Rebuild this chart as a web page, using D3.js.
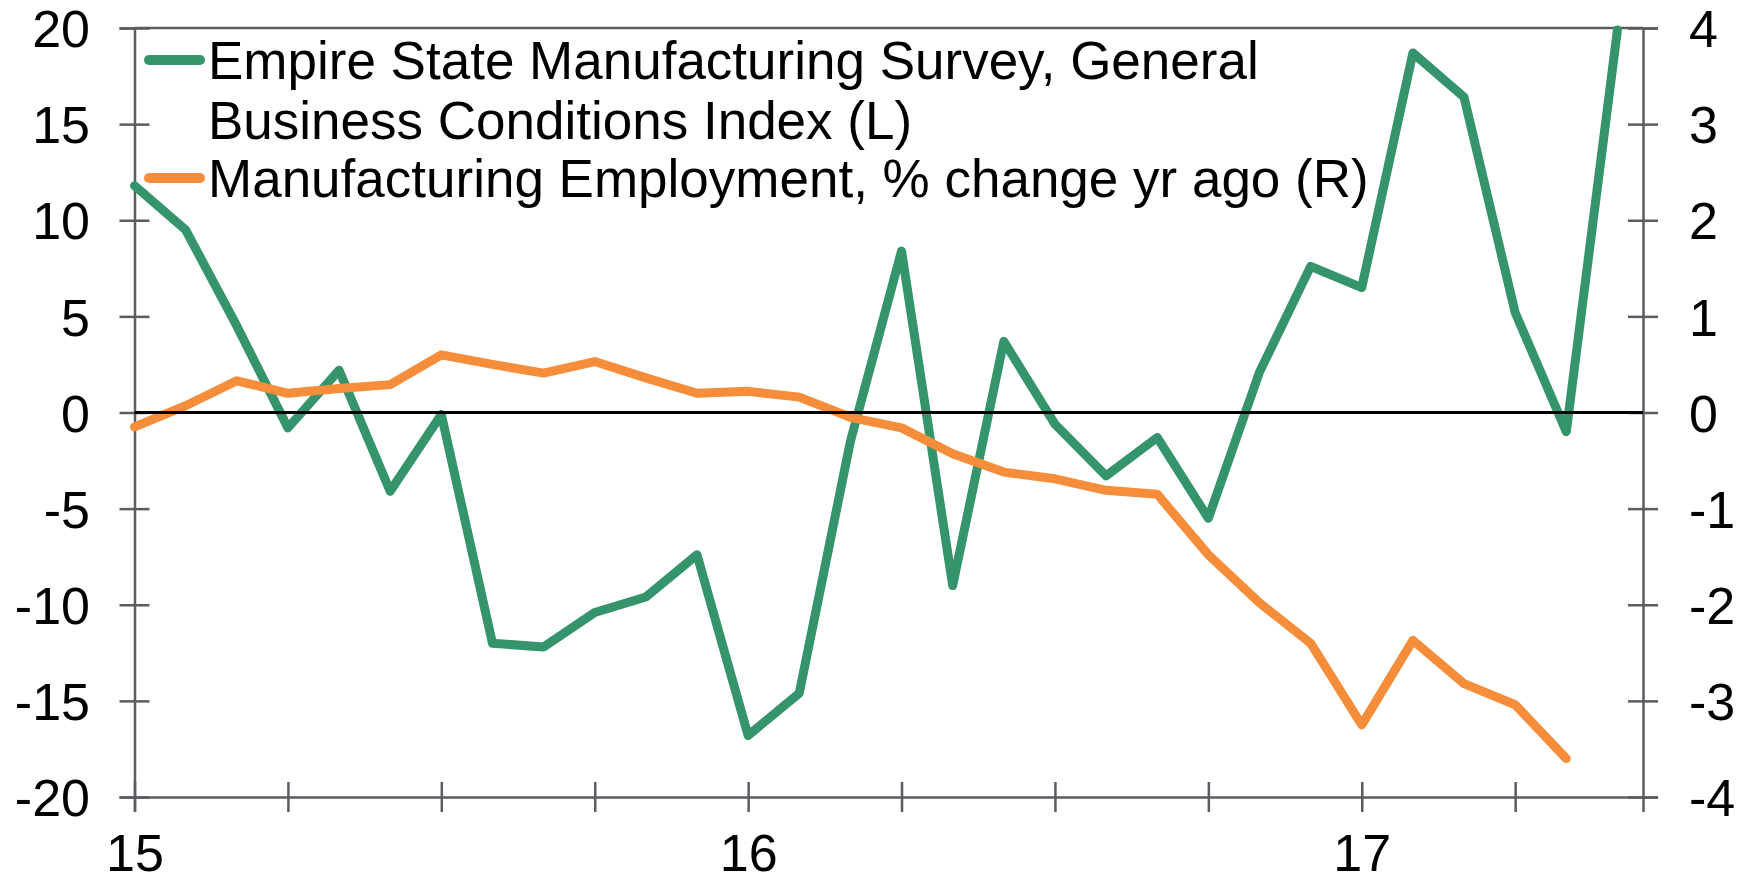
<!DOCTYPE html>
<html>
<head>
<meta charset="utf-8">
<script src="https://cdn.jsdelivr.net/npm/d3@7"></script>
<style>
  html, body { margin: 0; padding: 0; background: #fff; }
  svg { display: block; font-family: "Liberation Sans", Arial, sans-serif; }
</style>
</head>
<body>
<div id="chart"></div>
<script>
// monthly, Jan 2015 .. Jun 2017
const months = d3.range(0, 30)
const empire = [11.8, 9.5, 4.5, -0.8, 2.2, -4.1, -0.1, -12.0, -12.2, -10.4, -9.6, -7.4,
    -16.8, -14.6, -1.5, 8.4, -9.0, 3.7, -0.6, -3.3, -1.3, -5.5, 2.1, 7.6,
    6.5, 18.7, 16.4, 5.2, -1.0, 19.9]
const employment = [-0.15, 0.07, 0.33, 0.2, 0.25, 0.29, 0.6, 0.5, 0.41, 0.53, 0.36, 0.2,
    0.22, 0.16, -0.05, -0.16, -0.43, -0.62, -0.69, -0.81, -0.85, -1.48, -1.98, -2.4,
    -3.25, -2.37, -2.82, -3.04, -3.6]
const leftTicks = [-20, -15, -10, -5, 0, 5, 10, 15, 20]
const rightTicks = [-4, -3, -2, -1, 0, 1, 2, 3, 4]
const quarterTicks = [0, 3, 6, 9, 12, 15, 18, 21, 24, 27]
const yearLabels = { 0: '15', 12: '16', 24: '17' }
const legendLines = [
    { color: '#35946b', text: ['Empire State Manufacturing Survey, General', 'Business Conditions Index (L)'] },
    { color: '#f68d3b', text: ['Manufacturing Employment, % change yr ago (R)'] }
]

const W = 1752, H = 883
const pLeft = 134.5, pRight = 1643, pTop = 28, pBottom = 797
const axisColor = '#595c60'

const svg = d3.select('#chart').append('svg')
    .attr('width', W)
    .attr('height', H)

const x = d3.scaleLinear().domain([0, 29.5]).range([pLeft, pRight])
const yL = d3.scaleLinear().domain([-20, 20]).range([pBottom, pTop])
const yR = d3.scaleLinear().domain([-4, 4]).range([pBottom, pTop])

const styleAxis = (g) => {
    g.select('.domain').attr('stroke', axisColor).attr('stroke-width', 2.5)
    g.selectAll('.tick line').attr('stroke', axisColor).attr('stroke-width', 2.5)
    g.selectAll('.tick text')
        .attr('fill', '#000')
        .style('font-size', '52px')
        .style('font-family', '"Liberation Sans", Arial, sans-serif')
}

// top frame line
svg.append('line')
    .attr('x1', pLeft).attr('x2', pRight)
    .attr('y1', pTop).attr('y2', pTop)
    .attr('stroke', axisColor).attr('stroke-width', 2.5)

// left axis, ticks crossing the line
const gl = svg.append('g')
    .attr('transform', `translate(${pLeft},0)`)
    .call(d3.axisLeft(yL).tickValues(leftTicks).tickSize(15).tickPadding(29.5).tickFormat(d => String(d)))
gl.selectAll('.tick line').attr('x1', 15)
gl.selectAll('.tick text').attr('dy', '0.36em')
styleAxis(gl)

// right axis
const gr = svg.append('g')
    .attr('transform', `translate(${pRight},0)`)
    .call(d3.axisRight(yR).tickValues(rightTicks).tickSize(15).tickPadding(31).tickFormat(d => String(d)))
gr.selectAll('.tick line').attr('x1', -15)
gr.selectAll('.tick text').attr('dy', '0.36em')
styleAxis(gr)

// bottom axis, a tick every quarter, year labels in January
const gb = svg.append('g')
    .attr('transform', `translate(0,${pBottom})`)
    .call(d3.axisBottom(x).tickValues(quarterTicks).tickSize(15).tickFormat(d => yearLabels[d] || ''))
gb.selectAll('.tick line').attr('y1', -15)
gb.selectAll('.tick text').attr('y', 74).attr('dy', 0)
styleAxis(gb)

// series
const lineL = d3.line().x((d, i) => x(months[i])).y(d => yL(d))
const lineR = d3.line().x((d, i) => x(months[i])).y(d => yR(d))

svg.append('path')
    .datum(empire)
    .attr('d', lineL)
    .attr('fill', 'none')
    .attr('stroke', legendLines[0].color)
    .attr('stroke-width', 9)
    .attr('stroke-linejoin', 'round')
    .attr('stroke-linecap', 'round')

svg.append('path')
    .datum(employment)
    .attr('d', lineR)
    .attr('fill', 'none')
    .attr('stroke', legendLines[1].color)
    .attr('stroke-width', 9)
    .attr('stroke-linejoin', 'round')
    .attr('stroke-linecap', 'round')

// zero line sits on top of the series
svg.append('line')
    .attr('x1', pLeft).attr('x2', pRight)
    .attr('y1', yL(0)).attr('y2', yL(0))
    .attr('stroke', '#000').attr('stroke-width', 3)

// legend
const legend = svg.append('g')
const legendY = [60, 178]
legendLines.forEach((item, k) => {
    const cy = legendY[k]
    legend.append('line')
        .attr('x1', 149).attr('x2', 200)
        .attr('y1', cy).attr('y2', cy)
        .attr('stroke', item.color)
        .attr('stroke-width', 10)
        .attr('stroke-linecap', 'round')
    item.text.forEach((t, j) => {
        legend.append('text')
            .attr('x', 208)
            .attr('y', cy + 19 + j * 60)
            .style('font-size', '53px')
            .attr('fill', '#000')
            .text(t)
    })
})
</script>
</body>
</html>
